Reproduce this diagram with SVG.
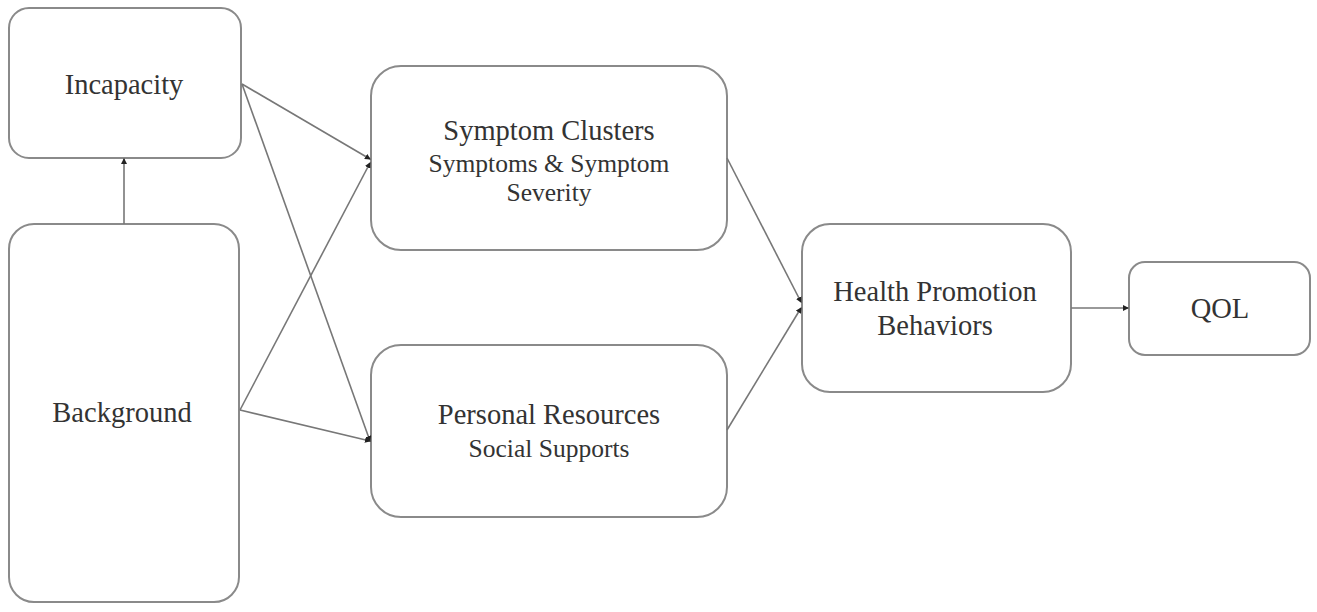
<svg xmlns="http://www.w3.org/2000/svg" width="1317" height="612" viewBox="0 0 1317 612">
<defs>
<style>
.box{fill:#fff;stroke:#8a8a8a;stroke-width:2}
.t{font-family:"Liberation Serif","DejaVu Serif",serif;fill:#333;text-anchor:middle}
.l{font-size:28.5px}
.s{font-size:25.5px}
.c{stroke:#777;stroke-width:1.6;fill:none;marker-end:url(#ah)}
</style>
<marker id="ah" markerWidth="6" markerHeight="6" refX="5" refY="3" orient="auto" markerUnits="userSpaceOnUse">
<path d="M0,0 L6,3 L0,6 z" fill="#222"/>
</marker>
</defs>
<rect width="1317" height="612" fill="#fff"/>
<g id="incapacity"><rect class="box" x="9" y="8" width="232" height="150" rx="20"/><text class="t l" x="124" y="94">Incapacity</text></g>
<g id="background"><rect class="box" x="9" y="224" width="230" height="378" rx="25"/><text class="t l" x="122" y="422">Background</text></g>
<g id="symptom"><rect class="box" x="371" y="66" width="356" height="184" rx="30"/><text class="t l" x="549" y="140">Symptom Clusters</text><text class="t s" x="549" y="172">Symptoms &amp; Symptom</text><text class="t s" x="549" y="201">Severity</text></g>
<g id="personal"><rect class="box" x="371" y="345" width="356" height="172" rx="30"/><text class="t l" x="549" y="424">Personal Resources</text><text class="t s" x="549" y="457">Social Supports</text></g>
<g id="health"><rect class="box" x="802" y="224" width="269" height="168" rx="28"/><text class="t l" x="935" y="301">Health Promotion</text><text class="t l" x="935" y="335">Behaviors</text></g>
<g id="qol"><rect class="box" x="1129" y="262" width="181" height="93" rx="16"/><text class="t l" x="1220" y="318">QOL</text></g>
<g id="connectors">
<line class="c" x1="124" y1="224" x2="124" y2="159"/>
<line class="c" x1="242" y1="84" x2="370" y2="159"/>
<line class="c" x1="242" y1="84" x2="370" y2="441"/>
<line class="c" x1="240" y1="410" x2="370" y2="163"/>
<line class="c" x1="240" y1="410" x2="370" y2="441"/>
<line class="c" x1="727" y1="158" x2="801" y2="302"/>
<line class="c" x1="727" y1="430" x2="801" y2="308"/>
<line class="c" x1="1071" y1="308" x2="1128" y2="308"/>
</g>
</svg>
